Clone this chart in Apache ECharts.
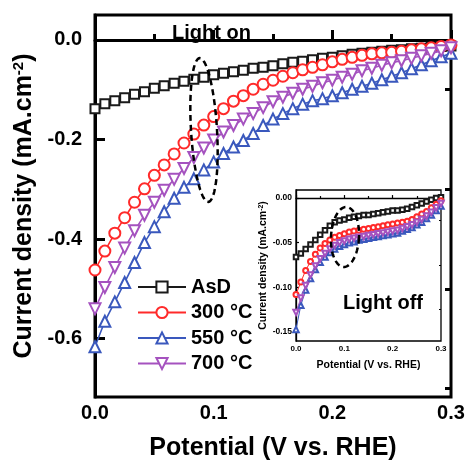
<!DOCTYPE html>
<html>
<head>
<meta charset="utf-8">
<script src="https://cdn.jsdelivr.net/npm/echarts@6/dist/echarts.min.js"></script>
<style>html,body{margin:0;padding:0;background:#fff}#c{width:467px;height:462px}</style>
</head>
<body>
<div id="c"></div>
<script>
// ---------- DATA ----------
const seriesNames = ['AsD', '300 \u00B0C', '550 \u00B0C', '700 \u00B0C'];

// Main plot (Light on)
const mainX = [0,0.0083,0.0167,0.025,0.0333,0.0417,0.05,0.0583,0.0667,0.075,0.0833,0.0917,0.1,0.1083,0.1167,0.125,0.1333,0.1417,0.15,0.1583,0.1667,0.175,0.1833,0.1917,0.2,0.2083,0.2167,0.225,0.2333,0.2417,0.25,0.2583,0.2667,0.275,0.2833,0.2917,0.3];
const mainAsD = [-0.138,-0.128,-0.122,-0.116,-0.109,-0.104,-0.097,-0.092,-0.087,-0.083,-0.079,-0.075,-0.070,-0.067,-0.064,-0.061,-0.057,-0.055,-0.052,-0.048,-0.045,-0.043,-0.040,-0.037,-0.035,-0.032,-0.029,-0.027,-0.025,-0.023,-0.021,-0.020,-0.018,-0.017,-0.015,-0.013,-0.012];
const main300 = [-0.462,-0.424,-0.388,-0.357,-0.326,-0.299,-0.272,-0.251,-0.229,-0.207,-0.189,-0.171,-0.154,-0.138,-0.123,-0.112,-0.099,-0.089,-0.081,-0.073,-0.066,-0.060,-0.055,-0.050,-0.044,-0.039,-0.035,-0.031,-0.028,-0.026,-0.025,-0.023,-0.020,-0.018,-0.016,-0.013,-0.010];
const main550 = [-0.616,-0.565,-0.526,-0.487,-0.447,-0.407,-0.375,-0.345,-0.318,-0.296,-0.279,-0.261,-0.245,-0.228,-0.215,-0.202,-0.188,-0.172,-0.159,-0.148,-0.138,-0.129,-0.122,-0.118,-0.112,-0.106,-0.099,-0.093,-0.087,-0.080,-0.073,-0.066,-0.058,-0.050,-0.042,-0.034,-0.027];
const main700 = [-0.540,-0.497,-0.457,-0.418,-0.383,-0.352,-0.326,-0.302,-0.280,-0.258,-0.236,-0.217,-0.201,-0.185,-0.172,-0.159,-0.148,-0.136,-0.124,-0.115,-0.107,-0.099,-0.093,-0.086,-0.081,-0.075,-0.069,-0.062,-0.057,-0.051,-0.046,-0.042,-0.037,-0.032,-0.027,-0.022,-0.016];

// Inset (Light off)
const insetX = [0,0.01,0.02,0.03,0.04,0.05,0.06,0.07,0.08,0.09,0.1,0.11,0.12,0.13,0.14,0.15,0.16,0.17,0.18,0.19,0.2,0.21,0.22,0.23,0.24,0.25,0.26,0.27,0.28,0.29,0.3];
const insetAsD = [-0.066,-0.062,-0.057,-0.052,-0.047,-0.041,-0.036,-0.031,-0.027,-0.025,-0.024,-0.022,-0.021,-0.020,-0.019,-0.019,-0.018,-0.017,-0.016,-0.015,-0.014,-0.014,-0.013,-0.012,-0.010,-0.008,-0.006,-0.004,-0.002,0.000,0.001];
const inset300 = [-0.108,-0.094,-0.081,-0.071,-0.063,-0.056,-0.051,-0.047,-0.044,-0.042,-0.040,-0.038,-0.037,-0.036,-0.035,-0.034,-0.033,-0.032,-0.031,-0.030,-0.029,-0.028,-0.027,-0.026,-0.024,-0.021,-0.018,-0.015,-0.011,-0.007,-0.003];
const inset550 = [-0.147,-0.120,-0.103,-0.090,-0.080,-0.072,-0.066,-0.061,-0.057,-0.054,-0.052,-0.050,-0.049,-0.047,-0.046,-0.045,-0.044,-0.043,-0.042,-0.041,-0.040,-0.039,-0.037,-0.035,-0.033,-0.030,-0.027,-0.023,-0.019,-0.014,-0.009];
const inset700 = [-0.128,-0.112,-0.098,-0.086,-0.076,-0.068,-0.062,-0.057,-0.053,-0.050,-0.048,-0.046,-0.045,-0.044,-0.043,-0.042,-0.041,-0.040,-0.039,-0.038,-0.037,-0.036,-0.034,-0.032,-0.030,-0.027,-0.024,-0.020,-0.016,-0.011,-0.006];

// Tick labels
const mainYTicks = [0, -0.2, -0.4, -0.6];
const mainYMinor = [0.0, -0.1, -0.3, -0.5, -0.7];
const insetYTicks = [0, -0.05, -0.10, -0.15];
const insetYMinor = [-0.025, -0.075, -0.125];

// ---------- STYLE ----------
const FONT = '"Liberation Sans", Arial, sans-serif';
const colors = ['#1a1a1a', '#ff2a2a', '#3a58bd', '#a552bf'];
const symbols = ['emptyRect', 'emptyCircle', 'emptyTriangle', 'emptyTriangle'];
const rotations = [0, 0, 0, 180];
const mainSizes = [9, 11, 11, 11];
const insetSizes = [4.5, 5, 5.5, 5.5];

const mainData = [mainAsD, main300, main550, main700];
const insetData = [insetAsD, inset300, inset550, inset700];

const pair = (xs, ys) => xs.map((x, i) => [x, ys[i]]);

const series = [];
mainData.forEach((ys, k) => {
  series.push({
    type: 'line', name: seriesNames[k], xAxisIndex: 0, yAxisIndex: 0,
    data: pair(mainX, ys), symbol: symbols[k], symbolSize: mainSizes[k], symbolRotate: rotations[k],
    showAllSymbol: true, clip: true,
    lineStyle: { color: colors[k], width: 1.6 },
    itemStyle: { color: colors[k], borderColor: colors[k], borderWidth: 1.2 },
    z: 3 + k
  });
});
insetData.forEach((ys, k) => {
  series.push({
    type: 'line', name: seriesNames[k], xAxisIndex: 1, yAxisIndex: 2,
    data: pair(insetX, ys), symbol: symbols[k], symbolSize: insetSizes[k], symbolRotate: rotations[k],
    showAllSymbol: true, clip: true,
    lineStyle: { color: colors[k], width: 1 },
    itemStyle: { color: colors[k], borderColor: colors[k], borderWidth: 0.8 },
    z: 10 + k
  });
});

function ellipsePoints(cx, cy, rx, ry, rot) {
  const pts = [];
  const c = Math.cos(rot), s = Math.sin(rot);
  for (let i = 0; i < 72; i++) {
    const t = i / 72 * Math.PI * 2;
    const x = rx * Math.cos(t), y = ry * Math.sin(t);
    pts.push([cx + x * c - y * s, cy + x * s + y * c]);
  }
  return pts;
}

const bold = { fontFamily: FONT, fontWeight: 'bold', color: '#000' };

const option = {
  animation: false,
  backgroundColor: '#fff',
  grid: [
    { left: 95, top: 15, width: 356, height: 382, outerBoundsMode: 'none', containLabel: false, show: true, borderColor: '#000', borderWidth: 3, backgroundColor: 'transparent' },
    { left: 296, top: 190, width: 145, height: 151, outerBoundsMode: 'none', containLabel: false, show: true, borderColor: '#000', borderWidth: 1.3, backgroundColor: '#fff', z: 5 }
  ],
  xAxis: [
    {
      gridIndex: 0, type: 'value', min: 0, max: 0.3, interval: 0.1,
      name: 'Potential (V vs. RHE)', nameLocation: 'middle', nameGap: 39,
      nameTextStyle: Object.assign({ fontSize: 25 }, bold),
      axisLine: { lineStyle: { color: '#000', width: 3 } },
      axisTick: { inside: true, length: 10, lineStyle: { color: '#000', width: 3 } },
      minorTick: { show: true, splitNumber: 2, length: 6, lineStyle: { color: '#000', width: 3 } },
      axisLabel: Object.assign({ fontSize: 20, margin: 6, formatter: v => v.toFixed(1) }, bold),
      splitLine: { show: false }
    },
    {
      gridIndex: 1, type: 'value', min: 0, max: 0.3, interval: 0.1,
      name: 'Potential (V vs. RHE)', nameLocation: 'middle', nameGap: 19,
      nameTextStyle: Object.assign({ fontSize: 10.5 }, bold),
      axisLine: { lineStyle: { color: '#000', width: 1.3 } },
      axisTick: { inside: true, length: 3, lineStyle: { color: '#000', width: 1.2 } },
      minorTick: { show: true, splitNumber: 2, length: 2, lineStyle: { color: '#000', width: 1.2 } },
      axisLabel: Object.assign({ fontSize: 8, margin: 4, formatter: v => v.toFixed(1) }, bold),
      splitLine: { show: false }, z: 6
    }
  ],
  yAxis: [
    {
      gridIndex: 0, type: 'value', min: -0.717, max: 0.05,
      name: 'Current density (mA.cm{s|-2})', nameLocation: 'middle', nameGap: 52,
      nameTextStyle: Object.assign({ fontSize: 25, rich: { s: { fontSize: 15, fontWeight: 'bold', fontFamily: FONT, verticalAlign: 'top', color: '#000' } } }, bold),
      axisLine: { lineStyle: { color: '#000', width: 3 } },
      axisTick: { inside: true, length: 10, customValues: mainYTicks, lineStyle: { color: '#000', width: 3 } },
      axisLabel: Object.assign({ fontSize: 20, margin: 13, customValues: mainYTicks, formatter: v => v.toFixed(1) }, bold),
      splitLine: { show: false }
    },
    {
      gridIndex: 0, type: 'value', min: -0.717, max: 0.05,
      axisLine: { show: false },
      axisTick: { inside: true, length: 6, customValues: mainYMinor, lineStyle: { color: '#000', width: 3 } },
      axisLabel: { show: false },
      splitLine: { show: false }
    },
    {
      gridIndex: 1, type: 'value', min: -0.16, max: 0.009,
      name: 'Current density (mA.cm{s|-2})', nameLocation: 'middle', nameGap: 27,
      nameTextStyle: Object.assign({ fontSize: 10.5, rich: { s: { fontSize: 7, fontWeight: 'bold', fontFamily: FONT, verticalAlign: 'top', color: '#000' } } }, bold),
      axisLine: { lineStyle: { color: '#000', width: 1.3 } },
      axisTick: { inside: true, length: 3, customValues: insetYTicks, lineStyle: { color: '#000', width: 1.2 } },
      axisLabel: Object.assign({ fontSize: 8.5, margin: 4, customValues: insetYTicks, formatter: v => v.toFixed(2) }, bold),
      splitLine: { show: false }, z: 6
    },
    {
      gridIndex: 1, type: 'value', min: -0.16, max: 0.009,
      axisLine: { show: false },
      axisTick: { inside: true, length: 2, customValues: insetYMinor, lineStyle: { color: '#000', width: 1.2 } },
      axisLabel: { show: false },
      splitLine: { show: false }, z: 6
    }
  ],
  legend: {
    data: seriesNames, orient: 'vertical', left: 137, top: 277, padding: 0,
    itemWidth: 48, itemHeight: 14, itemGap: 5.5,
    textStyle: Object.assign({ fontSize: 20 }, bold)
  },
  graphic: [
    { type: 'text', left: 172, top: 23, z: 20, style: { text: 'Light on', font: 'bold 20px ' + FONT, fill: '#000' } },
    { type: 'text', left: 343, top: 293, z: 20, style: { text: 'Light off', font: 'bold 20px ' + FONT, fill: '#000' } },
    { type: 'polygon', z: 20, shape: { points: ellipsePoints(204, 130, 13, 72, -0.06) }, style: { fill: 'none', stroke: '#000', lineWidth: 2.5, lineDash: [6, 4] } },
    { type: 'polygon', z: 20, shape: { points: ellipsePoints(345, 237, 14, 30, 0.05) }, style: { fill: 'none', stroke: '#000', lineWidth: 2.5, lineDash: [6, 4] } }
  ],
  series: series
};

const chart = echarts.init(document.getElementById('c'), null, { renderer: 'canvas' });
chart.setOption(option);
</script>
</body>
</html>
